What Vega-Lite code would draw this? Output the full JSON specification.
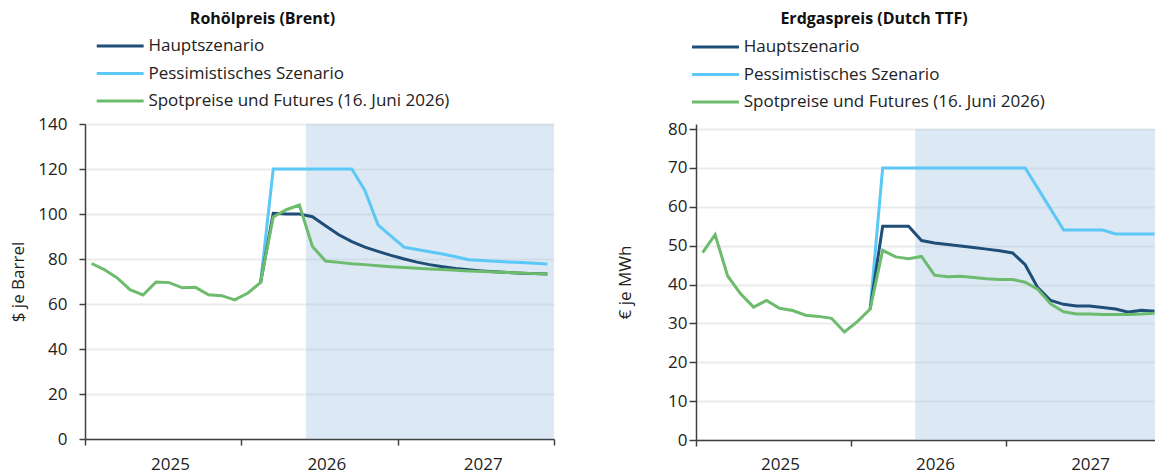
{
  "$schema": "https://vega.github.io/schema/vega-lite/v6.json",
  "padding": {"left": 9, "top": 10, "right": 0, "bottom": 2},
  "spacing": 61,
  "background": "white",
  "config": {
    "font": "Open Sans",
    "view": {"stroke": null},
    "axis": {
      "labelFont": "Open Sans", "labelFontSize": 17, "labelColor": "#222222",
      "titleFont": "Open Sans", "titleFontSize": 17, "titleFontWeight": "normal", "titleColor": "#222222",
      "domainColor": "#404040", "domainWidth": 1.5, "tickColor": "#404040", "tickWidth": 1.5,
      "gridColor": "#ebebeb", "gridWidth": 2
    },
    "title": {"font": "Open Sans", "fontSize": 16, "fontWeight": "bold", "color": "#111111"}
  },
  "resolve": {"scale": {"color": "independent", "x": "independent", "y": "independent"}, "legend": {"color": "independent"}},
  "datasets": {
    "names": [
      {"s": "H", "name": "Hauptszenario"},
      {"s": "P", "name": "Pessimistisches Szenario"},
      {"s": "S", "name": "Spotpreise und Futures (16. Juni 2026)"}
    ],
    "oil": [
      {"m": "2026-02", "s": "P", "v": 69.6}, {"m": "2026-03", "s": "P", "v": 120}, {"m": "2026-04", "s": "P", "v": 120},
      {"m": "2026-05", "s": "P", "v": 120}, {"m": "2026-06", "s": "P", "v": 120}, {"m": "2026-07", "s": "P", "v": 120},
      {"m": "2026-08", "s": "P", "v": 120}, {"m": "2026-09", "s": "P", "v": 120}, {"m": "2026-10", "s": "P", "v": 110.5},
      {"m": "2026-11", "s": "P", "v": 95.2}, {"m": "2026-12", "s": "P", "v": 90.2}, {"m": "2027-01", "s": "P", "v": 85.2},
      {"m": "2027-02", "s": "P", "v": 84.2}, {"m": "2027-03", "s": "P", "v": 83.2}, {"m": "2027-04", "s": "P", "v": 82.2},
      {"m": "2027-05", "s": "P", "v": 81.0}, {"m": "2027-06", "s": "P", "v": 79.7}, {"m": "2027-07", "s": "P", "v": 79.3},
      {"m": "2027-08", "s": "P", "v": 79.0}, {"m": "2027-09", "s": "P", "v": 78.7}, {"m": "2027-10", "s": "P", "v": 78.4},
      {"m": "2027-11", "s": "P", "v": 78.1}, {"m": "2027-12", "s": "P", "v": 77.8},
      {"m": "2026-02", "s": "H", "v": 69.6}, {"m": "2026-03", "s": "H", "v": 100.3}, {"m": "2026-04", "s": "H", "v": 100},
      {"m": "2026-05", "s": "H", "v": 100}, {"m": "2026-06", "s": "H", "v": 98.8}, {"m": "2026-07", "s": "H", "v": 94.8},
      {"m": "2026-08", "s": "H", "v": 90.8}, {"m": "2026-09", "s": "H", "v": 87.7}, {"m": "2026-10", "s": "H", "v": 85.3},
      {"m": "2026-11", "s": "H", "v": 83.4}, {"m": "2026-12", "s": "H", "v": 81.6}, {"m": "2027-01", "s": "H", "v": 80.0},
      {"m": "2027-02", "s": "H", "v": 78.6}, {"m": "2027-03", "s": "H", "v": 77.5}, {"m": "2027-04", "s": "H", "v": 76.6},
      {"m": "2027-05", "s": "H", "v": 75.8}, {"m": "2027-06", "s": "H", "v": 75.2}, {"m": "2027-07", "s": "H", "v": 74.7},
      {"m": "2027-08", "s": "H", "v": 74.3}, {"m": "2027-09", "s": "H", "v": 74.0}, {"m": "2027-10", "s": "H", "v": 73.7},
      {"m": "2027-11", "s": "H", "v": 73.5}, {"m": "2027-12", "s": "H", "v": 73.3},
      {"m": "2025-01", "s": "S", "v": 78.0}, {"m": "2025-02", "s": "S", "v": 75.3}, {"m": "2025-03", "s": "S", "v": 71.7},
      {"m": "2025-04", "s": "S", "v": 66.4}, {"m": "2025-05", "s": "S", "v": 64.0}, {"m": "2025-06", "s": "S", "v": 69.8},
      {"m": "2025-07", "s": "S", "v": 69.5}, {"m": "2025-08", "s": "S", "v": 67.2}, {"m": "2025-09", "s": "S", "v": 67.4},
      {"m": "2025-10", "s": "S", "v": 64.1}, {"m": "2025-11", "s": "S", "v": 63.7}, {"m": "2025-12", "s": "S", "v": 61.8},
      {"m": "2026-01", "s": "S", "v": 64.9}, {"m": "2026-02", "s": "S", "v": 69.6}, {"m": "2026-03", "s": "S", "v": 98.7},
      {"m": "2026-04", "s": "S", "v": 101.9}, {"m": "2026-05", "s": "S", "v": 104.0}, {"m": "2026-06", "s": "S", "v": 85.6},
      {"m": "2026-07", "s": "S", "v": 79.1}, {"m": "2026-08", "s": "S", "v": 78.5}, {"m": "2026-09", "s": "S", "v": 77.9},
      {"m": "2026-10", "s": "S", "v": 77.5}, {"m": "2026-11", "s": "S", "v": 77.0}, {"m": "2026-12", "s": "S", "v": 76.6},
      {"m": "2027-01", "s": "S", "v": 76.2}, {"m": "2027-02", "s": "S", "v": 75.9}, {"m": "2027-03", "s": "S", "v": 75.6},
      {"m": "2027-04", "s": "S", "v": 75.3}, {"m": "2027-05", "s": "S", "v": 75.0}, {"m": "2027-06", "s": "S", "v": 74.7},
      {"m": "2027-07", "s": "S", "v": 74.4}, {"m": "2027-08", "s": "S", "v": 74.2}, {"m": "2027-09", "s": "S", "v": 74.0},
      {"m": "2027-10", "s": "S", "v": 73.8}, {"m": "2027-11", "s": "S", "v": 73.5}, {"m": "2027-12", "s": "S", "v": 73.3}
    ],
    "gas": [
      {"m": "2026-02", "s": "P", "v": 33.7}, {"m": "2026-03", "s": "P", "v": 70}, {"m": "2026-04", "s": "P", "v": 70},
      {"m": "2026-05", "s": "P", "v": 70}, {"m": "2026-06", "s": "P", "v": 70}, {"m": "2026-07", "s": "P", "v": 70},
      {"m": "2026-08", "s": "P", "v": 70}, {"m": "2026-09", "s": "P", "v": 70}, {"m": "2026-10", "s": "P", "v": 70},
      {"m": "2026-11", "s": "P", "v": 70}, {"m": "2026-12", "s": "P", "v": 70}, {"m": "2027-01", "s": "P", "v": 70},
      {"m": "2027-02", "s": "P", "v": 70}, {"m": "2027-03", "s": "P", "v": 64.8}, {"m": "2027-04", "s": "P", "v": 59.4},
      {"m": "2027-05", "s": "P", "v": 54.0}, {"m": "2027-06", "s": "P", "v": 54.0}, {"m": "2027-07", "s": "P", "v": 54.0},
      {"m": "2027-08", "s": "P", "v": 54.0}, {"m": "2027-09", "s": "P", "v": 53.0}, {"m": "2027-10", "s": "P", "v": 53.0},
      {"m": "2027-11", "s": "P", "v": 53.0}, {"m": "2027-12", "s": "P", "v": 53.0},
      {"m": "2026-02", "s": "H", "v": 33.7}, {"m": "2026-03", "s": "H", "v": 55.0}, {"m": "2026-04", "s": "H", "v": 55.0},
      {"m": "2026-05", "s": "H", "v": 55.0}, {"m": "2026-06", "s": "H", "v": 51.3}, {"m": "2026-07", "s": "H", "v": 50.7},
      {"m": "2026-08", "s": "H", "v": 50.3}, {"m": "2026-09", "s": "H", "v": 49.9}, {"m": "2026-10", "s": "H", "v": 49.5},
      {"m": "2026-11", "s": "H", "v": 49.1}, {"m": "2026-12", "s": "H", "v": 48.7}, {"m": "2027-01", "s": "H", "v": 48.1},
      {"m": "2027-02", "s": "H", "v": 45.1}, {"m": "2027-03", "s": "H", "v": 39.2}, {"m": "2027-04", "s": "H", "v": 35.9},
      {"m": "2027-05", "s": "H", "v": 34.9}, {"m": "2027-06", "s": "H", "v": 34.5}, {"m": "2027-07", "s": "H", "v": 34.5},
      {"m": "2027-08", "s": "H", "v": 34.1}, {"m": "2027-09", "s": "H", "v": 33.7}, {"m": "2027-10", "s": "H", "v": 32.9},
      {"m": "2027-11", "s": "H", "v": 33.4}, {"m": "2027-12", "s": "H", "v": 33.1},
      {"m": "2025-01", "s": "S", "v": 48.2}, {"m": "2025-02", "s": "S", "v": 52.8}, {"m": "2025-03", "s": "S", "v": 42.2},
      {"m": "2025-04", "s": "S", "v": 37.6}, {"m": "2025-05", "s": "S", "v": 34.2}, {"m": "2025-06", "s": "S", "v": 35.9},
      {"m": "2025-07", "s": "S", "v": 33.9}, {"m": "2025-08", "s": "S", "v": 33.3}, {"m": "2025-09", "s": "S", "v": 32.1},
      {"m": "2025-10", "s": "S", "v": 31.8}, {"m": "2025-11", "s": "S", "v": 31.3}, {"m": "2025-12", "s": "S", "v": 27.8},
      {"m": "2026-01", "s": "S", "v": 30.5}, {"m": "2026-02", "s": "S", "v": 33.7}, {"m": "2026-03", "s": "S", "v": 48.8},
      {"m": "2026-04", "s": "S", "v": 47.1}, {"m": "2026-05", "s": "S", "v": 46.6}, {"m": "2026-06", "s": "S", "v": 47.2},
      {"m": "2026-07", "s": "S", "v": 42.4}, {"m": "2026-08", "s": "S", "v": 42.0}, {"m": "2026-09", "s": "S", "v": 42.1},
      {"m": "2026-10", "s": "S", "v": 41.8}, {"m": "2026-11", "s": "S", "v": 41.5}, {"m": "2026-12", "s": "S", "v": 41.3},
      {"m": "2027-01", "s": "S", "v": 41.3}, {"m": "2027-02", "s": "S", "v": 40.6}, {"m": "2027-03", "s": "S", "v": 38.8},
      {"m": "2027-04", "s": "S", "v": 35.0}, {"m": "2027-05", "s": "S", "v": 33.0}, {"m": "2027-06", "s": "S", "v": 32.4},
      {"m": "2027-07", "s": "S", "v": 32.4}, {"m": "2027-08", "s": "S", "v": 32.3}, {"m": "2027-09", "s": "S", "v": 32.3},
      {"m": "2027-10", "s": "S", "v": 32.3}, {"m": "2027-11", "s": "S", "v": 32.4}, {"m": "2027-12", "s": "S", "v": 32.6}
    ],
    "band": [{"start": "2026-06-01", "end": "2028-01-01"}]
  },
  "hconcat": [
    {
      "width": 469,
      "height": 315,
      "title": {"text": "Rohölpreis (Brent)", "frame": "group", "anchor": "middle", "dx": -57, "offset": 10},
      "layer": [
        {
          "data": {"name": "band"},
          "mark": {"type": "rect", "color": "#a8c8e6", "opacity": 0.4, "clip": true},
          "encoding": {
            "x": {"field": "start", "type": "temporal",
              "scale": {"domain": [{"year": 2025, "month": 1, "date": 1}, {"year": 2028, "month": 1, "date": 1}], "nice": false},
              "axis": {"title": null, "grid": false, "format": "%Y",
                "values": [{"year": 2025, "month": 1, "date": 1}, {"year": 2026, "month": 1, "date": 1}, {"year": 2027, "month": 1, "date": 1}, {"year": 2028, "month": 1, "date": 1}],
                "labelExpr": "year(datum.value) > 2027 ? '' : datum.label",
                "labelOffset": {"condition": {"test": "year(datum.value) > 2027", "value": 0}, "value": 85},
                "labelPadding": 11, "tickSize": 6, "labelOverlap": false, "labelFlush": false}},
            "x2": {"field": "end"}
          }
        },
        {
          "data": {"name": "oil"},
          "transform": [{"lookup": "s", "from": {"data": {"name": "names"}, "key": "s", "fields": ["name"]}}],
          "mark": {"type": "line", "strokeWidth": 3, "clip": true},
          "encoding": {
            "x": {"field": "m", "type": "temporal", "timeUnit": "yearmonth", "bandPosition": 0.5},
            "y": {"field": "v", "type": "quantitative",
              "scale": {"domain": [0, 140], "nice": false},
              "axis": {"title": "$ je Barrel", "values": [0, 20, 40, 60, 80, 100, 120, 140], "grid": true,
                "tickSize": 6, "labelPadding": 12, "titlePadding": 10}},
            "color": {"field": "name", "type": "nominal",
              "scale": {"domain": ["Hauptszenario", "Pessimistisches Szenario", "Spotpreise und Futures (16. Juni 2026)"],
                "range": ["#1f4e79", "#5bc8f5", "#6dbb6d"]},
              "legend": {"title": null, "orient": "none", "legendX": 25.7, "legendY": -87.5, "direction": "vertical",
                "symbolType": "M-3,0H3", "symbolSize": 245, "symbolStrokeWidth": 3, "labelOffset": 18.7, "labelLimit": 0,
                "labelFont": "Open Sans", "labelFontSize": 17, "labelColor": "#222222", "rowPadding": 9.5, "padding": 0}}
          }
        }
      ]
    },
    {
      "width": 460,
      "height": 316,
      "title": {"text": "Erdgaspreis (Dutch TTF)", "frame": "group", "anchor": "middle", "dx": -52, "offset": 10.5},
      "layer": [
        {
          "data": {"name": "band"},
          "mark": {"type": "rect", "color": "#a8c8e6", "opacity": 0.4, "clip": true},
          "encoding": {
            "x": {"field": "start", "type": "temporal",
              "scale": {"domain": [{"year": 2025, "month": 1, "date": 1}, {"year": 2027, "month": 12, "date": 20}], "nice": false},
              "axis": {"title": null, "grid": false, "format": "%Y",
                "values": [{"year": 2025, "month": 1, "date": 1}, {"year": 2026, "month": 1, "date": 1}, {"year": 2027, "month": 1, "date": 1}],
                "labelOffset": 84, "labelPadding": 10, "tickSize": 6, "labelOverlap": false, "labelFlush": false}},
            "x2": {"field": "end"},
            "y": {"datum": 0, "type": "quantitative",
              "scale": {"domain": [0, 81.29], "nice": false},
              "axis": {"title": "€ je MWh", "values": [0, 10, 20, 30, 40, 50, 60, 70, 80], "grid": true,
                "tickSize": 7, "labelPadding": 2, "titlePadding": 33}},
            "y2": {"datum": 80}
          }
        },
        {
          "data": {"name": "gas"},
          "transform": [{"lookup": "s", "from": {"data": {"name": "names"}, "key": "s", "fields": ["name"]}}],
          "mark": {"type": "line", "strokeWidth": 3, "clip": true},
          "encoding": {
            "x": {"field": "m", "type": "temporal", "timeUnit": "yearmonth", "bandPosition": 0.5},
            "y": {"field": "v", "type": "quantitative",
              "scale": {"domain": [0, 81.29], "nice": false},
              "axis": {"title": "€ je MWh", "values": [0, 10, 20, 30, 40, 50, 60, 70, 80], "grid": true,
                "tickSize": 7, "labelPadding": 2, "titlePadding": 33}},
            "color": {"field": "name", "type": "nominal",
              "scale": {"domain": ["Hauptszenario", "Pessimistisches Szenario", "Spotpreise und Futures (16. Juni 2026)"],
                "range": ["#1f4e79", "#5bc8f5", "#6dbb6d"]},
              "legend": {"title": null, "orient": "none", "legendX": 10, "legendY": -86.5, "direction": "vertical",
                "symbolType": "M-3,0H3", "symbolSize": 245, "symbolStrokeWidth": 3, "labelOffset": 18.7, "labelLimit": 0,
                "labelFont": "Open Sans", "labelFontSize": 17, "labelColor": "#222222", "rowPadding": 9.5, "padding": 0}}
          }
        }
      ]
    }
  ]
}
